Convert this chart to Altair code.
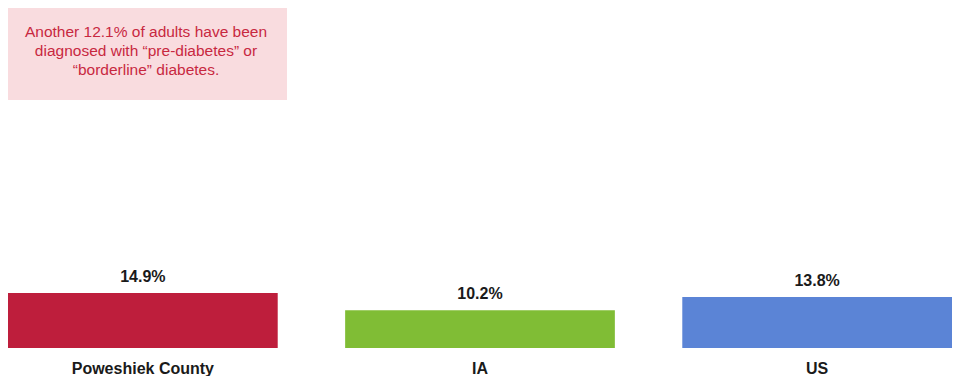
import altair as alt
import pandas as pd

categories = ["Poweshiek County", "IA", "US"]
values = [14.9, 10.2, 13.8]
colors = ["#BE1E3C", "#80BD35", "#5B84D6"]
note_lines = [
    "Another 12.1% of adults have been",
    "diagnosed with “pre-diabetes” or",
    "“borderline” diabetes.",
]

df = pd.DataFrame({
    "cat": categories,
    "val": values,
    "label": [f"{v:.1f}%" for v in values],
})

FONT = "Liberation Sans, Arial, sans-serif"

x = alt.X(
    "cat:N",
    sort=categories,
    scale=alt.Scale(paddingInner=0.2, paddingOuter=0),
    axis=alt.Axis(
        title=None, domain=False, ticks=False, labelAngle=0,
        labelFont=FONT, labelFontSize=16, labelFontWeight="bold",
        labelColor="#1a1a1a", labelPadding=12,
    ),
)
y = alt.Y("val:Q", scale=alt.Scale(domain=[0, 92]), axis=None)

bars = alt.Chart(df).mark_bar().encode(
    x=x,
    y=y,
    color=alt.Color("cat:N", scale=alt.Scale(domain=categories, range=colors), legend=None),
)

labels = alt.Chart(df).mark_text(
    baseline="alphabetic", dy=-11, font=FONT, fontSize=16,
    fontWeight="bold", color="#1a1a1a",
).encode(x=x, y=y, text="label:N")

note_df = pd.DataFrame({"t": [0]})
note_box = alt.Chart(note_df).mark_rect(color="#F9DCDF").encode(
    x=alt.value(0), x2=alt.value(279), y=alt.value(0), y2=alt.value(92)
)
note_text = alt.Chart(note_df).mark_text(
    align="center", baseline="middle", font=FONT,
    fontSize=15.5, lineHeight=19, color="#C8283F",
).encode(x=alt.value(138), y=alt.value(24), text=alt.value(note_lines))

chart = alt.layer(note_box, note_text, bars, labels).properties(
    width=944, height=340, padding=0
).configure_view(stroke=None)

chart.save("out.html", embed_options={"renderer": "svg", "actions": False})
